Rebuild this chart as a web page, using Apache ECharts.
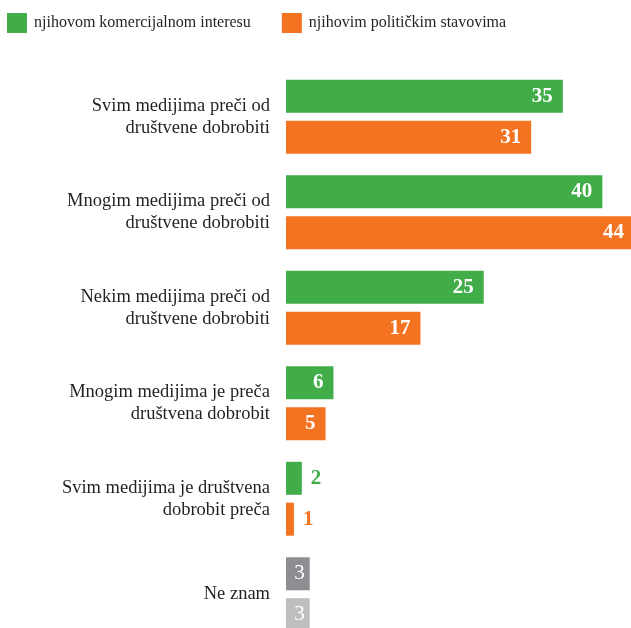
<!DOCTYPE html>
<html>
<head>
<meta charset="utf-8">
<script src="https://cdn.jsdelivr.net/npm/echarts@6/dist/echarts.min.js"></script>
<style>html,body{margin:0;padding:0;background:#fff}#c{width:631px;height:628px}</style>
</head>
<body>
<div id="c"></div>
<script>
const categories = [
  'Svim medijima preči od\ndruštvene dobrobiti',
  'Mnogim medijima preči od\ndruštvene dobrobiti',
  'Nekim medijima preči od\ndruštvene dobrobiti',
  'Mnogim medijima je preča\ndruštvena dobrobit',
  'Svim medijima je društvena\ndobrobit preča',
  'Ne znam'
];
const seriesNames = ['njihovom komercijalnom interesu', 'njihovim političkim stavovima'];
const commercial = [35, 40, 25, 6, 2, 3];
const political = [31, 44, 17, 5, 1, 3];

const GREEN = '#41ad49', ORANGE = '#f37321';
const GRAY1 = '#8e8e92', GRAY2 = '#bebebe';
const FONT = 'Liberation Serif';

function build(values, color, gray) {
  return values.map((v, i) => {
    const item = { value: v };
    if (i === values.length - 1) {
      item.itemStyle = { color: gray };
      item.label = { fontWeight: 'normal', distance: 5 };
    } else if (v < 3) {
      item.label = { position: 'right', color: color, distance: 9 };
    }
    return item;
  });
}

const chart = echarts.init(document.getElementById('c'));
chart.setOption({
  animation: false,
  legend: {
    left: 7, top: 13, padding: 0, itemWidth: 20, itemHeight: 20, itemGap: 31,
    icon: 'rect',
    textStyle: { fontFamily: FONT, fontSize: 16, color: '#231f20', padding: [0, 0, 0, 2] },
    data: seriesNames
  },
  grid: { left: 286, top: 69, width: 348, height: 573, containLabel: false, outerBoundsMode: 'none' },
  xAxis: { type: 'value', min: 0, max: 44, show: false },
  yAxis: {
    type: 'category', data: categories, inverse: true,
    axisLine: { show: false }, axisTick: { show: false },
    axisLabel: { margin: 16, fontFamily: FONT, fontSize: 18.5, lineHeight: 22, color: '#231f20', align: 'right' }
  },
  series: [
    {
      name: seriesNames[0], type: 'bar', data: build(commercial, GREEN, GRAY1),
      itemStyle: { color: GREEN }, barWidth: 33, barGap: '24%',
      label: { show: true, position: 'insideRight', distance: 10, color: '#fff', fontFamily: FONT, fontSize: 21, fontWeight: 'bold' }
    },
    {
      name: seriesNames[1], type: 'bar', data: build(political, ORANGE, GRAY2),
      itemStyle: { color: ORANGE }, barWidth: 33, barGap: '24%',
      label: { show: true, position: 'insideRight', distance: 10, color: '#fff', fontFamily: FONT, fontSize: 21, fontWeight: 'bold' }
    }
  ]
});
</script>
</body>
</html>
